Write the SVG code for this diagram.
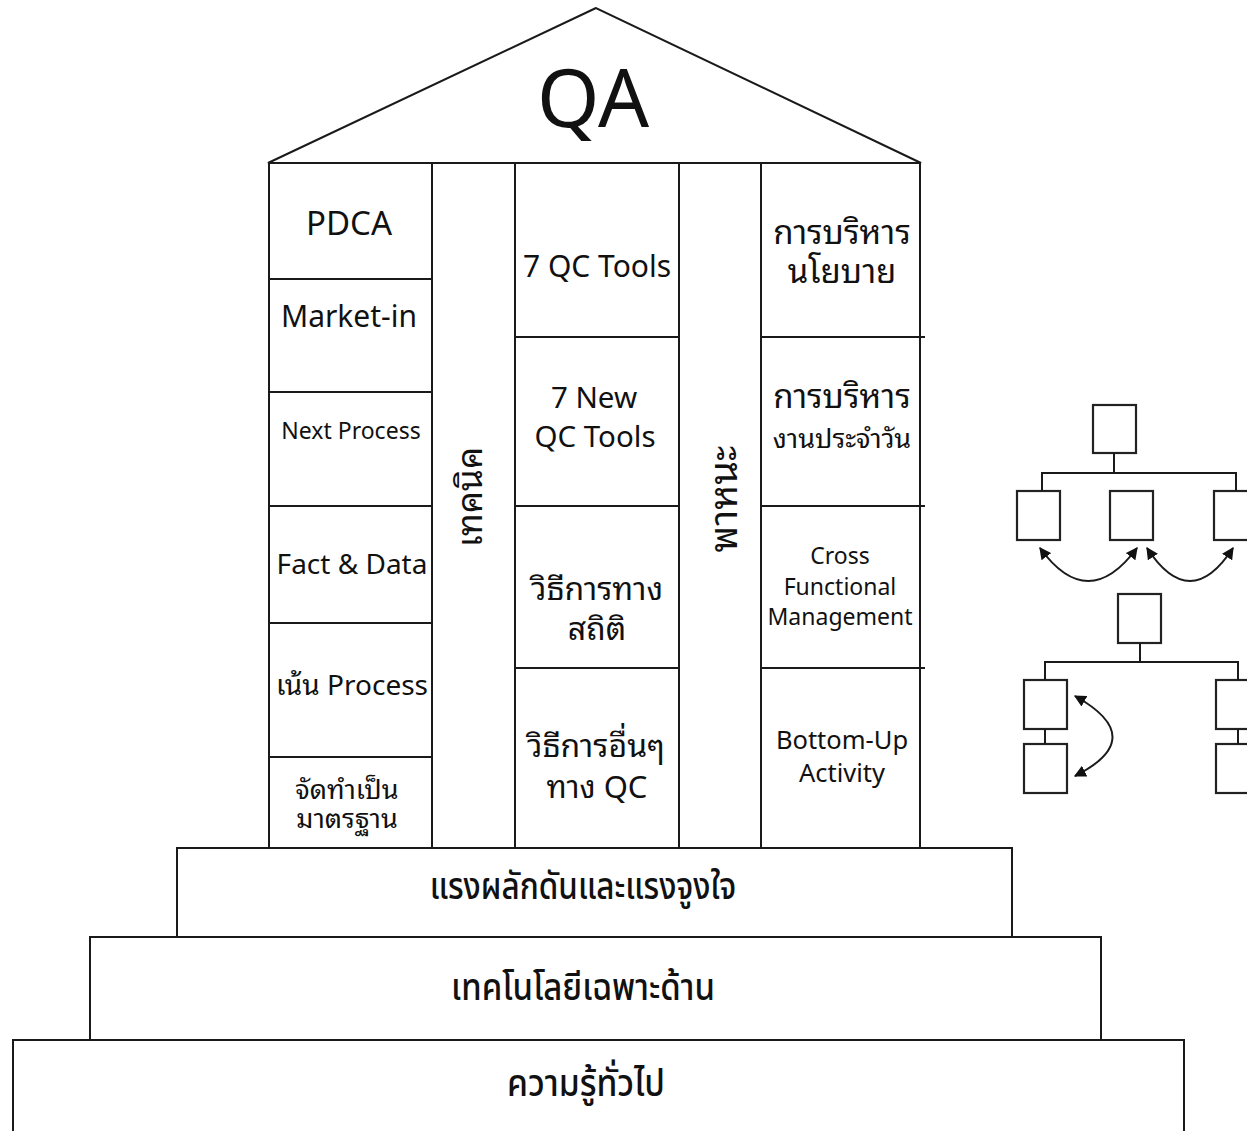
<svg xmlns="http://www.w3.org/2000/svg" width="1247" height="1131" viewBox="0 0 1247 1131">
<defs>
<style>
.ln{fill:none;stroke:#1a1a1a;stroke-width:2}
.bx{fill:#fff;stroke:#1a1a1a;stroke-width:2}
.ob{fill:#fff;stroke:#222;stroke-width:2.2}
.t{font-family:"Noto Sans Thai Looped","Noto Sans","Noto Sans Thai",sans-serif;fill:#111;text-anchor:middle;dominant-baseline:central}
.c{font-family:"Noto Sans Thai","Noto Sans",sans-serif;fill:#111;text-anchor:middle;dominant-baseline:central;font-weight:500}
</style>
<marker id="ah" viewBox="0 0 10 10" refX="9" refY="5" markerWidth="6" markerHeight="6" orient="auto-start-reverse" markerUnits="strokeWidth">
<path d="M0,0 L10,5 L0,10 z" fill="#111"/>
</marker>
</defs>
<rect width="1247" height="1131" fill="#fff"/>

<g id="roof">
<polygon class="bx" points="596,8 268,163 921,163"/>
<text class="t" x="593" y="91" font-size="80">QA</text>
</g>

<g id="col-left">
<rect class="bx" x="269" y="163" width="163" height="685"/>
<line class="ln" x1="269" y1="279" x2="432" y2="279"/>
<line class="ln" x1="269" y1="392" x2="432" y2="392"/>
<line class="ln" x1="269" y1="506" x2="432" y2="506"/>
<line class="ln" x1="269" y1="623" x2="432" y2="623"/>
<line class="ln" x1="269" y1="757" x2="432" y2="757"/>
<text class="t" x="349" y="220" font-size="33">PDCA</text>
<text class="t" x="349" y="313" font-size="30">Market-in</text>
<text class="t" x="351" y="428" font-size="23">Next Process</text>
<text class="t" x="352" y="561" font-size="28">Fact &amp; Data</text>
<text class="t" x="352" y="682" font-size="28">เน้น Process</text>
<text class="t" x="347" y="786" font-size="27">จัดทำเป็น</text>
<text class="t" x="347" y="815" font-size="27">มาตรฐาน</text>
</g>

<g id="pillar-technique">
<rect class="bx" x="432" y="163" width="83" height="685"/>
<text class="t" x="0" y="0" font-size="35" transform="translate(466,497) rotate(-90)">เทคนิค</text>
</g>

<g id="col-center">
<rect class="bx" x="515" y="163" width="164" height="685"/>
<line class="ln" x1="515" y1="337" x2="679" y2="337"/>
<line class="ln" x1="515" y1="506" x2="679" y2="506"/>
<line class="ln" x1="515" y1="668" x2="679" y2="668"/>
<text class="t" x="597" y="263" font-size="30">7 QC Tools</text>
<text class="t" x="594" y="394" font-size="29.5">7 New</text>
<text class="t" x="595" y="433" font-size="29.5">QC Tools</text>
<text class="t" x="597" y="585" font-size="32">วิธีการทาง</text>
<text class="t" x="597" y="625" font-size="32">สถิติ</text>
<text class="t" x="596" y="742" font-size="32">วิธีการอื่นๆ</text>
<text class="t" x="597" y="784" font-size="31">ทาง QC</text>
</g>

<g id="pillar-vehicle">
<rect class="bx" x="679" y="163" width="82" height="685"/>
<text class="t" x="0" y="0" font-size="38" transform="translate(719,499) rotate(-90)">พาหนะ</text>
</g>

<g id="col-right">
<rect class="bx" x="761" y="163" width="159" height="685"/>
<line class="ln" x1="761" y1="337" x2="925" y2="337"/>
<line class="ln" x1="761" y1="506" x2="925" y2="506"/>
<line class="ln" x1="761" y1="668" x2="925" y2="668"/>
<text class="t" x="842" y="229" font-size="33">การบริหาร</text>
<text class="t" x="842" y="268" font-size="33">นโยบาย</text>
<text class="t" x="842" y="393" font-size="33">การบริหาร</text>
<text class="t" x="842" y="435" font-size="27">งานประจำวัน</text>
<text class="t" x="840" y="553" font-size="23">Cross</text>
<text class="t" x="840" y="584" font-size="23">Functional</text>
<text class="t" x="840" y="614" font-size="23">Management</text>
<text class="t" x="842" y="737" font-size="25.5">Bottom-Up</text>
<text class="t" x="842" y="770" font-size="25.5">Activity</text>
</g>

<g id="step-1">
<rect class="bx" x="177" y="848" width="835" height="89"/>
<text class="c" x="0" y="0" font-size="37" transform="translate(583,888) scale(0.85,1)">แรงผลักดันและแรงจูงใจ</text>
</g>
<g id="step-2">
<rect class="bx" x="90" y="937" width="1011" height="103"/>
<text class="c" x="0" y="0" font-size="37" transform="translate(583,989) scale(0.89,1)">เทคโนโลยีเฉพาะด้าน</text>
</g>
<g id="step-3">
<rect class="bx" x="13" y="1040" width="1171" height="100"/>
<text class="c" x="0" y="0" font-size="37" transform="translate(586,1084) scale(0.91,1)">ความรู้ทั่วไป</text>
</g>

<g id="org-chart-1">
<rect class="ob" x="1093" y="405" width="43" height="48"/>
<rect class="ob" x="1017" y="491" width="43" height="49"/>
<rect class="ob" x="1110" y="491" width="43" height="49"/>
<rect class="ob" x="1214" y="491" width="43" height="49"/>
</g>
<g id="org-chart-2">
<rect class="ob" x="1118" y="594" width="43" height="49"/>
<rect class="ob" x="1024" y="680" width="43" height="49"/>
<rect class="ob" x="1024" y="744" width="43" height="49"/>
<rect class="ob" x="1216" y="680" width="43" height="49"/>
<rect class="ob" x="1216" y="744" width="43" height="49"/>
</g>

<g id="connectors">
<path class="ln" d="M1114,453 V473 M1042,491 V473 H1236 V491"/>
<path class="ln" d="M1140,643 V662 M1045,680 V662 H1238 V680 M1045,729 V744 M1238,729 V744"/>
<path class="ln" d="M1040,548 Q1088,614 1137,548" marker-start="url(#ah)" marker-end="url(#ah)"/>
<path class="ln" d="M1147,548 Q1190,614 1233,548" marker-start="url(#ah)" marker-end="url(#ah)"/>
<path class="ln" d="M1075,696 Q1150,738 1075,776" marker-start="url(#ah)" marker-end="url(#ah)"/>
</g>
</svg>
